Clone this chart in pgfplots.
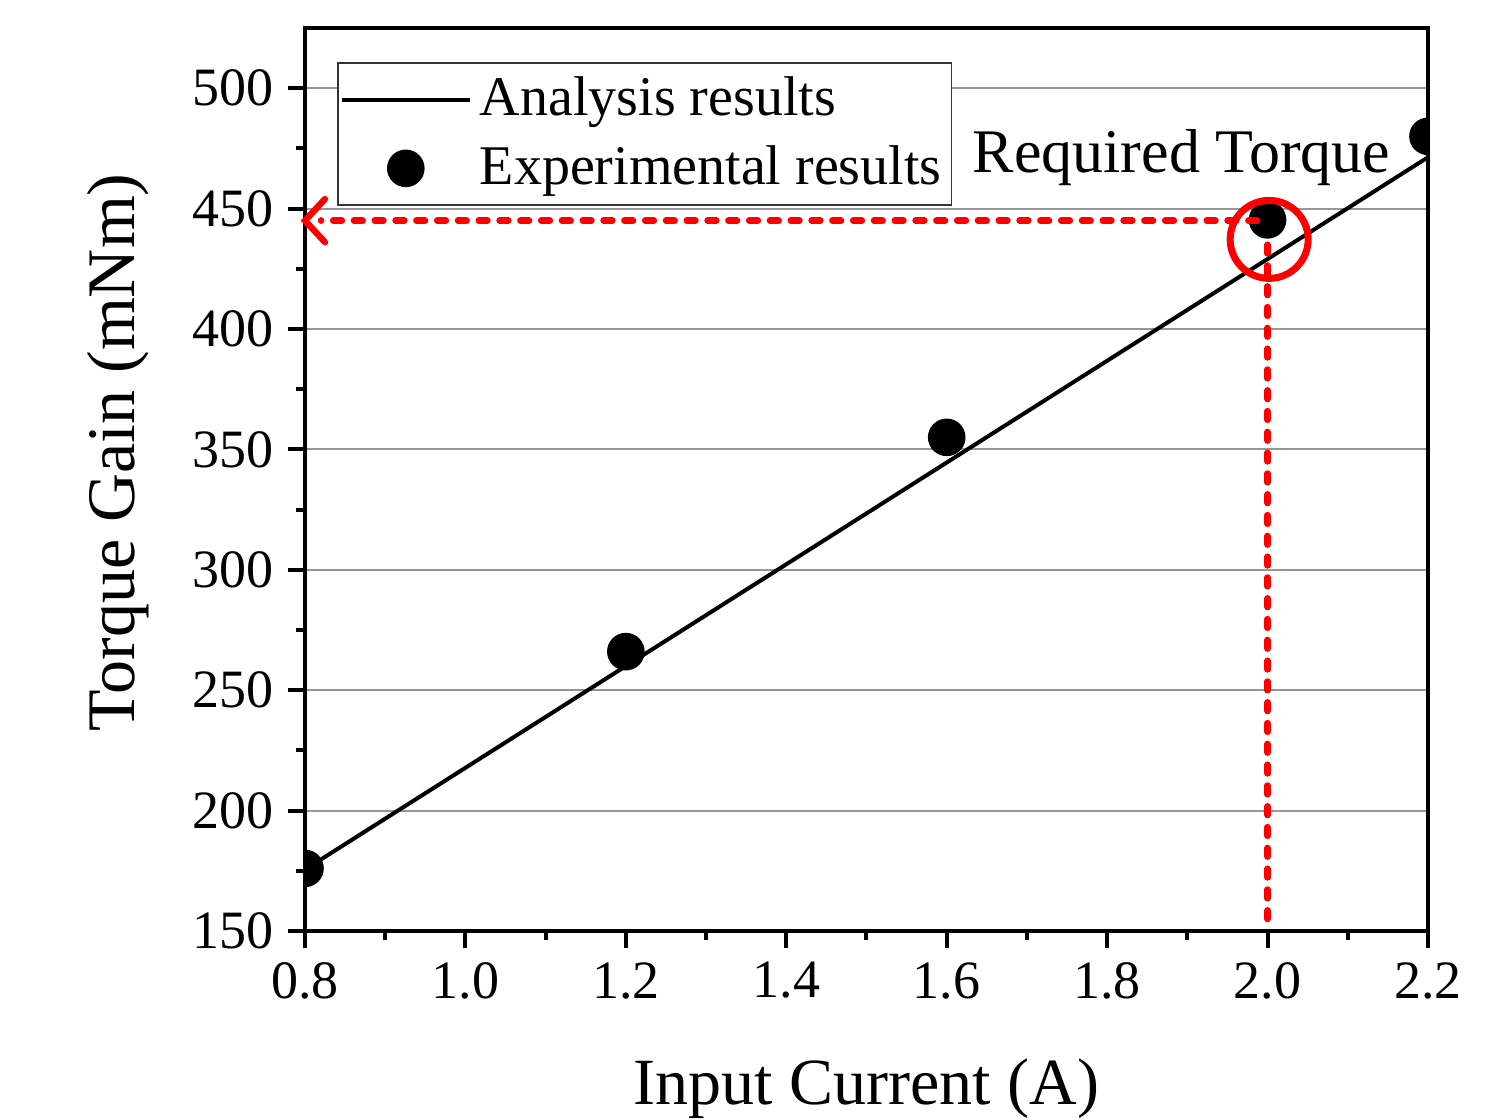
\documentclass[border=0pt]{standalone}
\usepackage{fontspec}
\setmainfont{Liberation Serif}
\usepackage{pgfplots}
\pgfplotsset{compat=1.18}

\definecolor{gridgray}{RGB}{150,150,150}
\tikzset{reddash/.style={red, line width=1.6pt, line cap=round, dash pattern=on 2.2pt off 3pt}}

\begin{document}
\begin{tikzpicture}
\useasboundingbox (-76.25pt,-47.25pt) rectangle (299.75pt,232.75pt);
\begin{axis}[
    scale only axis,
    width=280.75pt, height=225.75pt,
    xmin=0.8, xmax=2.2, ymin=150, ymax=525,
    xtick={0.8,1.0,...,2.21},
    ytick={150,200,...,500},
    minor x tick num=1, minor y tick num=1,
    xtick pos=bottom, ytick pos=left,
    tick align=outside,
    major tick length=4.3pt, minor tick length=2.2pt,
    axis line style={line width=1pt},
    every tick/.style={black, line width=1pt},
    ymajorgrids,
    major grid style={gridgray, line width=0.5pt},
    clip marker paths=true,
    /pgf/number format/assume math mode=true,
    xticklabel style={/pgf/number format/.cd, fixed, fixed zerofill, precision=1},
    ticklabel style={font=\fontsize{13.5}{16}\selectfont},
    xlabel={Input Current (A)},
    ylabel={Torque Gain (mNm)},
    every axis x label/.style={at={(axis description cs:0.5,-0.1927)}, anchor=base, font=\fontsize{16.5}{20}\selectfont},
    every axis y label/.style={at={(axis description cs:-0.1514,0.53)}, rotate=90, anchor=base, font=\fontsize{17}{20}\selectfont},
    legend style={at={(rel axis cs:0.0285,0.962)}, anchor=north west,
        draw=black!80, line width=0.4pt, font=\fontsize{14}{17}\selectfont,
        inner xsep=0.5pt, inner ysep=1.5pt, row sep=2pt},
    legend cell align=left,
    legend image code/.code={\draw[mark repeat=2, mark phase=2, #1] plot coordinates {(0pt,0pt) (16pt,0pt) (32pt,0pt)};},
    after end axis/.code={
        \draw[reddash] (axis cs:1.987,445) -- (axis cs:0.82,445);
        \draw[red, line width=1.6pt, line cap=round] (axis cs:0.8,445) ++(5pt,5.4pt) -- (axis cs:0.8,445) -- ++(5pt,-5.4pt);
        \draw[reddash] (axis cs:2.0,435) -- (axis cs:2.0,150);
        \draw[red, line width=1.75pt] (axis cs:2.002,437.2) circle[radius=9.75pt];
        \node[anchor=base west, inner sep=0pt, font=\fontsize{15.5}{18}\selectfont] at (axis cs:1.6315,464.8) {Required Torque};
    },
]
\addplot[black, line width=1pt] coordinates {(0.8,175.5) (2.2,471.3)};
\addlegendentry{Analysis results}
\addplot[only marks, mark=*, mark size=4.5pt, black] coordinates {
    (0.8,176) (1.2,266) (1.6,355) (2.0,445.3) (2.2,480)};
\addlegendentry{Experimental results}
\end{axis}
\end{tikzpicture}
\end{document}
